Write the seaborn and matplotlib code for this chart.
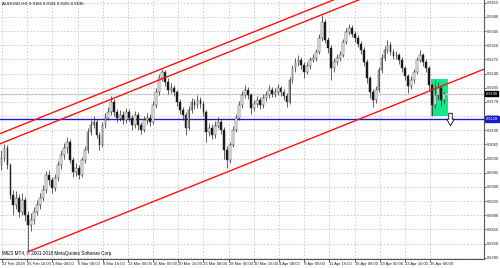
import numpy as np
import pandas as pd
import matplotlib
matplotlib.use("Agg")
import matplotlib.pyplot as plt
import seaborn as sns
from matplotlib.patches import Rectangle
from matplotlib.path import Path

# ---------------- data ----------------
symbol_title = "AUDUSD,H4  0.9185 0.9191 0.9155 0.9190"
copyright_text = "IMES MT4, \u00a9 2001-2018 MetaQuotes Software Corp."

first_open = 0.9014
close = [0.9032, 0.9056, 0.9014, 0.8940, 0.8916, 0.8933, 0.8898, 0.8928, 0.8891, 0.8866,
         0.8879, 0.8898, 0.8916, 0.8933, 0.8953, 0.8990, 0.8978, 0.8958, 0.8982, 0.9014,
         0.9039, 0.9056, 0.9071, 0.9027, 0.8997, 0.9007, 0.8990, 0.9027, 0.9052, 0.9096,
         0.9113, 0.9121, 0.9089, 0.9064, 0.9113, 0.9131, 0.9145, 0.9170, 0.9145, 0.9131,
         0.9138, 0.9126, 0.9145, 0.9131, 0.9113, 0.9138, 0.9113, 0.9101, 0.9126, 0.9131,
         0.9121, 0.9163, 0.9195, 0.9229, 0.9244, 0.9219, 0.9200, 0.9205, 0.9195, 0.9170,
         0.9150, 0.9138, 0.9106, 0.9150, 0.9170, 0.9163, 0.9175, 0.9165, 0.9145, 0.9096,
         0.9106, 0.9089, 0.9111, 0.9121, 0.9101, 0.9052, 0.9027, 0.9064, 0.9101, 0.9131,
         0.9163, 0.9187, 0.9200, 0.9187, 0.9155, 0.9165, 0.9175, 0.9163, 0.9180, 0.9187,
         0.9200, 0.9190, 0.9195, 0.9205, 0.9195, 0.9185, 0.9170, 0.9224, 0.9254, 0.9269,
         0.9274, 0.9261, 0.9244, 0.9259, 0.9274, 0.9279, 0.9294, 0.9328, 0.9368, 0.9323,
         0.9303, 0.9254, 0.9269, 0.9279, 0.9286, 0.9318, 0.9343, 0.9353, 0.9338, 0.9328,
         0.9313, 0.9298, 0.9269, 0.9229, 0.9195, 0.9175, 0.9200, 0.9249, 0.9279, 0.9298,
         0.9311, 0.9294, 0.9284, 0.9286, 0.9274, 0.9254, 0.9234, 0.9210, 0.9224, 0.9244,
         0.9274, 0.9286, 0.9269, 0.9254, 0.9212, 0.9163, 0.9187, 0.9205, 0.9175, 0.9190]
high = [0.9050, 0.9066, 0.9064, 0.9020, 0.8952, 0.8950, 0.8942, 0.8945, 0.8935, 0.8900,
        0.8895, 0.8910, 0.8928, 0.8945, 0.8965, 0.9000, 0.9002, 0.8985, 0.8992, 0.9025,
        0.9050, 0.9068, 0.9083, 0.9078, 0.9035, 0.9020, 0.9015, 0.9035, 0.9062, 0.9105,
        0.9125, 0.9135, 0.9128, 0.9095, 0.9120, 0.9142, 0.9158, 0.9185, 0.9178, 0.9152,
        0.9150, 0.9148, 0.9155, 0.9152, 0.9138, 0.9148, 0.9145, 0.9120, 0.9135, 0.9142,
        0.9140, 0.9172, 0.9205, 0.9238, 0.9252, 0.9250, 0.9228, 0.9218, 0.9212, 0.9200,
        0.9178, 0.9158, 0.9145, 0.9160, 0.9180, 0.9178, 0.9188, 0.9182, 0.9172, 0.9150,
        0.9118, 0.9115, 0.9122, 0.9132, 0.9128, 0.9108, 0.9060, 0.9072, 0.9110, 0.9140,
        0.9172, 0.9198, 0.9212, 0.9208, 0.9192, 0.9175, 0.9185, 0.9182, 0.9190, 0.9198,
        0.9212, 0.9208, 0.9205, 0.9215, 0.9210, 0.9202, 0.9192, 0.9232, 0.9262, 0.9278,
        0.9286, 0.9282, 0.9268, 0.9268, 0.9282, 0.9288, 0.9302, 0.9338, 0.9385, 0.9375,
        0.9330, 0.9310, 0.9278, 0.9288, 0.9295, 0.9325, 0.9352, 0.9363, 0.9360, 0.9345,
        0.9335, 0.9320, 0.9305, 0.9275, 0.9235, 0.9202, 0.9210, 0.9256, 0.9288, 0.9308,
        0.9323, 0.9318, 0.9300, 0.9296, 0.9292, 0.9280, 0.9260, 0.9240, 0.9235, 0.9252,
        0.9282, 0.9298, 0.9292, 0.9275, 0.9260, 0.9218, 0.9225, 0.9220, 0.9210, 0.9195]
low = [0.9002, 0.9024, 0.9005, 0.8930, 0.8890, 0.8905, 0.8885, 0.8890, 0.8875, 0.8800,
       0.8850, 0.8868, 0.8890, 0.8905, 0.8925, 0.8945, 0.8965, 0.8945, 0.8950, 0.8975,
       0.9005, 0.9030, 0.9045, 0.9018, 0.8985, 0.8988, 0.8980, 0.8985, 0.9020, 0.9045,
       0.9088, 0.9105, 0.9080, 0.9052, 0.9058, 0.9105, 0.9125, 0.9138, 0.9135, 0.9120,
       0.9122, 0.9115, 0.9118, 0.9122, 0.9100, 0.9105, 0.9100, 0.9090, 0.9095, 0.9115,
       0.9110, 0.9115, 0.9155, 0.9188, 0.9222, 0.9210, 0.9190, 0.9192, 0.9185, 0.9160,
       0.9140, 0.9125, 0.9088, 0.9100, 0.9142, 0.9152, 0.9155, 0.9155, 0.9135, 0.9072,
       0.9085, 0.9078, 0.9082, 0.9105, 0.9090, 0.9030, 0.9007, 0.9020, 0.9058, 0.9095,
       0.9125, 0.9155, 0.9180, 0.9178, 0.9140, 0.9148, 0.9158, 0.9152, 0.9155, 0.9172,
       0.9180, 0.9182, 0.9182, 0.9188, 0.9185, 0.9175, 0.9158, 0.9165, 0.9218, 0.9245,
       0.9260, 0.9252, 0.9228, 0.9238, 0.9252, 0.9268, 0.9272, 0.9288, 0.9320, 0.9315,
       0.9292, 0.9224, 0.9245, 0.9262, 0.9270, 0.9280, 0.9312, 0.9335, 0.9330, 0.9318,
       0.9305, 0.9288, 0.9258, 0.9218, 0.9180, 0.9158, 0.9168, 0.9195, 0.9242, 0.9272,
       0.9290, 0.9285, 0.9275, 0.9276, 0.9265, 0.9245, 0.9225, 0.9192, 0.9202, 0.9218,
       0.9238, 0.9268, 0.9260, 0.9245, 0.9200, 0.9135, 0.9155, 0.9178, 0.9160, 0.9168]

date_labels = ["22 Feb 2018", "26 Feb 16:00", "1 Mar 08:00", "6 Mar 00:00", "8 Mar 16:00",
               "13 Mar 08:00", "16 Mar 00:00", "20 Mar 16:00", "23 Mar 08:00", "28 Mar 00:00",
               "30 Mar 16:00", "4 Apr 08:00", "9 Apr 00:00", "11 Apr 16:00", "16 Apr 08:00",
               "19 Apr 00:00", "23 Apr 16:00", "26 Apr 08:00"]
price_ticks = [0.9415, 0.9380, 0.9345, 0.9310, 0.9275, 0.9240, 0.9205, 0.9170, 0.9135,
               0.9100, 0.9065, 0.9030, 0.8995, 0.8960, 0.8925, 0.8890, 0.8855, 0.8820, 0.8785]

bid_price = 0.9190
hline_price = 0.9128
# trend lines: (bar, price) anchors
lower_trend = [(9, 0.8800), (140, 0.9185)]
upper_trend_a = [(0, 0.9093), (54, 0.9252)]
upper_trend_b = [(54, 0.9227), (108, 0.9386)]
# rectangle (bar start, bar end, price low, price high)
box_bars = (144.8, 150.3)
box_prices = (0.9135, 0.9227)
arrow_bar, arrow_price = 151.0, 0.9128

# ---------------- build ----------------
opens = [first_open] + close[:-1]
df = pd.DataFrame({"open": opens, "high": high, "low": low, "close": close})
df["bar"] = np.arange(len(df))
df["bull"] = df["close"] >= df["open"]

sns.set_theme(style="white")
FONT = ["Liberation Sans Narrow", "Liberation Sans", "DejaVu Sans"]
plt.rcParams["font.family"] = FONT

fig = plt.figure(figsize=(5, 2.68), dpi=100)
ax = fig.add_axes([0.0, 9.5 / 268, 484 / 500, 258.5 / 268])
ax.set_facecolor("white")

xmin, xmax = -0.5, 162.5
ymax = 0.9422
ymin = 0.8783
ax.set_xlim(xmin, xmax)
ax.set_ylim(ymin, ymax)

# grid
tick_pos = 0.17 + 8.48 * np.arange(len(date_labels))
for t in tick_pos:
    ax.axvline(t, color="#c8c8c8", lw=0.6, ls=(0, (2, 2)), zorder=0)
for p in price_ticks:
    ax.axhline(p, color="#c8c8c8", lw=0.6, ls=(0, (2, 2)), zorder=0)

# rectangle
ax.add_patch(Rectangle((box_bars[0], box_prices[0]), box_bars[1] - box_bars[0],
                       box_prices[1] - box_prices[0], facecolor="#14e68c",
                       edgecolor="none", zorder=1))

# bid line and horizontal line
ax.axhline(bid_price, color="#cccccc", lw=1.0, zorder=1)
ax.axhline(hline_price, color="#1c1cc8", lw=1.0, zorder=2)

# candles
ax.vlines(df["bar"], df["low"], df["high"], color="#222222", lw=0.5, zorder=3)
body_bottom = np.minimum(df["open"], df["close"])
body_h = np.maximum(np.abs(df["close"] - df["open"]), 0.00008)
faces = np.where(df["bull"], "white", "#111111")
ax.bar(df["bar"], body_h, bottom=body_bottom, width=0.6, color=faces,
       edgecolor="#333333", linewidth=0.35, zorder=4)

# trend lines (rays)
def ray(anchors, start_bar):
    (b0, p0), (b1, p1) = anchors
    slope = (p1 - p0) / (b1 - b0)
    xs = np.array([start_bar, xmax])
    return xs, p0 + slope * (xs - b0)

for anchors, start in [(lower_trend, lower_trend[0][0]),
                       (upper_trend_a, xmin), (upper_trend_b, xmin)]:
    xs, ys = ray(anchors, start)
    ax.plot(xs, ys, color="#ff1010", lw=1.0, zorder=5, solid_capstyle="butt")

# hollow down arrow marker
arrow_path = Path([(-0.28, 1.0), (0.28, 1.0), (0.28, 0.05), (0.6, 0.05), (0.0, -1.0),
                   (-0.6, 0.05), (-0.28, 0.05), (-0.28, 1.0)], closed=True)
ax.plot([arrow_bar], [arrow_price], marker=arrow_path, markersize=9,
        markerfacecolor="white", markeredgecolor="black", markeredgewidth=0.6,
        ls="none", zorder=6, clip_on=False)

# axes style
for s in ["top", "left"]:
    ax.spines[s].set_visible(False)
for s in ["right", "bottom"]:
    ax.spines[s].set_color("#555555")
    ax.spines[s].set_linewidth(0.8)

ax.yaxis.tick_right()
ax.set_yticks(price_ticks)
ax.set_yticklabels([f"{p:.4f}" for p in price_ticks])
ax.tick_params(axis="y", which="both", right=True, length=1.5, width=0.5,
               pad=0.8, labelsize=2.9, colors="#222222")
ax.set_xticks(tick_pos)
ax.set_xticklabels(date_labels)
ax.tick_params(axis="x", bottom=True, length=2, width=0.5, pad=0.8,
               labelsize=3.0, colors="#222222")
for lab in ax.get_xticklabels():
    lab.set_horizontalalignment("left")

# price label boxes on the axis
for price, bg in [(bid_price, "black"), (hline_price, "#1c1cc8")]:
    ax.text(1.0035, price, f"{price:.4f}", transform=ax.get_yaxis_transform(),
            fontsize=2.9, color="white", va="center", ha="left",
            bbox=dict(boxstyle="square,pad=0.15", fc=bg, ec=bg), clip_on=False, zorder=10)

# texts
ax.text(0.004, 0.996, symbol_title, transform=ax.transAxes, fontsize=3.1,
        va="top", ha="left", color="black")
ax.text(0.004, 0.008, copyright_text, transform=ax.transAxes, fontsize=3.3,
        va="bottom", ha="left", color="black")

fig.savefig("out.png", dpi=100, facecolor="white")
